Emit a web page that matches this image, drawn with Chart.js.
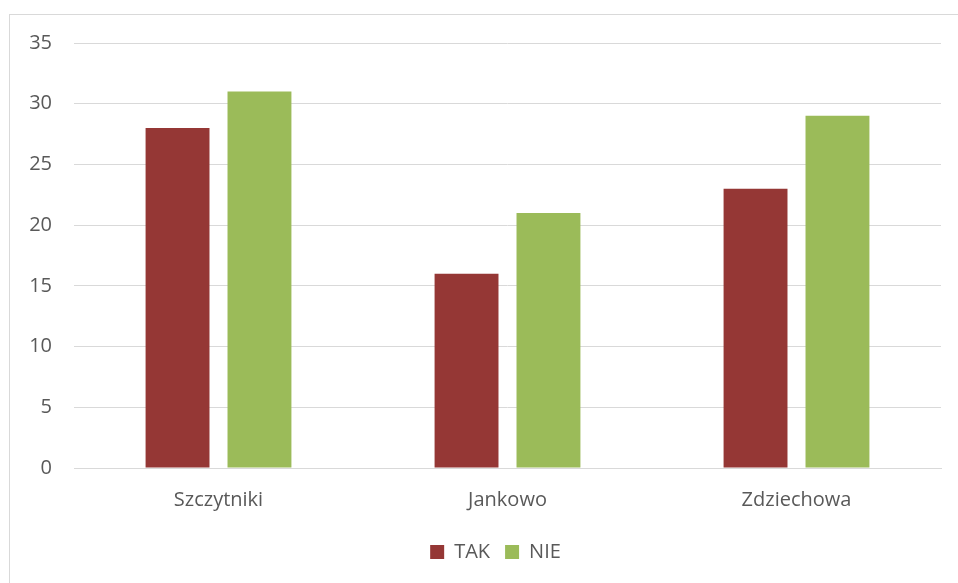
<!DOCTYPE html>
<html>
<head>
<meta charset="utf-8">
<script src="https://cdn.jsdelivr.net/npm/chart.js@4"></script>
<style>
  html, body { margin: 0; padding: 0; background: #fff; }
  #wrap { position: relative; width: 958px; height: 583px; overflow: hidden; }
  #frame { position: absolute; left: 9px; top: 14px; width: 960px; height: 600px; border: 1px solid #d9d9d9; box-sizing: border-box; }
  canvas { position: absolute; left: 0; top: 0; }
</style>
</head>
<body>
<div id="wrap">
  <div id="frame"></div>
  <canvas id="c" width="958" height="583"></canvas>
</div>
<script>
const categories = ["Szczytniki", "Jankowo", "Zdziechowa"];
const takValues = [28, 16, 23];
const nieValues = [31, 21, 29];
const seriesNames = ["TAK", "NIE"];

const FONT = { family: 'Open Sans', size: 20 };
const legendShift = {
  id: 'legendShift',
  afterLayout(chart) {
    if (chart.legend) { chart.legend.left += 20; chart.legend.right += 20; }
  }
};
const ctx = document.getElementById('c');
new Chart(ctx, {
  type: 'bar',
  data: {
    labels: categories,
    datasets: [
      { label: seriesNames[0], data: takValues, backgroundColor: '#953735', categoryPercentage: 0.567, barPercentage: 0.78 },
      { label: seriesNames[1], data: nieValues, backgroundColor: '#9BBB59', categoryPercentage: 0.567, barPercentage: 0.78 }
    ]
  },
  plugins: [legendShift],
  options: {
    responsive: false,
    animation: false,
    devicePixelRatio: 1,
    layout: { padding: { left: 10, right: 17, top: 43, bottom: 11 } },
    plugins: {
      tooltip: { enabled: false },
      legend: {
        position: 'bottom',
        labels: { color: '#595959', font: FONT, boxWidth: 14, boxHeight: 14, padding: 15 }
      }
    },
    scales: {
      x: {
        afterFit: (s) => { s.height = s.height - 5; },
        grid: { display: false, drawTicks: false },
        border: { display: true, color: '#d9d9d9', width: 1 },
        ticks: { color: '#595959', font: FONT, padding: 20 }
      },
      y: {
        min: 0, max: 35,
        afterFit: (s) => { s.width = 64; },
        grid: { color: '#d9d9d9', lineWidth: 1, drawTicks: false },
        border: { display: false },
        ticks: { stepSize: 5, color: '#595959', font: FONT, padding: 22 }
      }
    }
  }
});
</script>
</body>
</html>
